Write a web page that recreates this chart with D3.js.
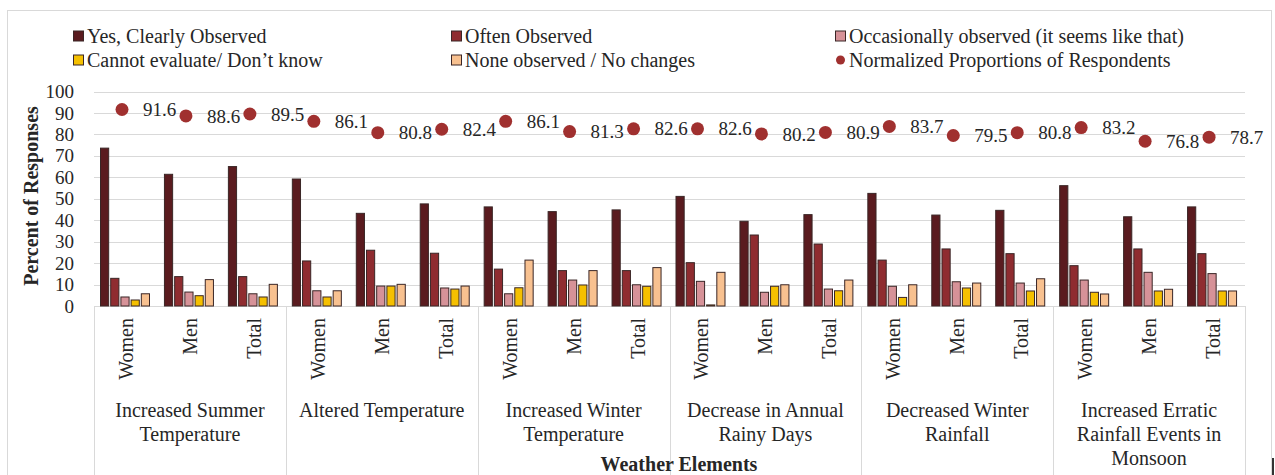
<!DOCTYPE html>
<html><head><meta charset="utf-8">
<script src="https://cdn.jsdelivr.net/npm/d3@7"></script>
<style>
body{margin:0;background:#fff}
svg{display:block}
text{font-family:"Liberation Serif","Times New Roman",serif;fill:#262626}
</style>
</head><body>
<svg id="chart" width="1275" height="475"></svg>
<script>
// ---------- data ----------
const groups = ["Increased Summer Temperature","Altered Temperature","Increased Winter Temperature","Decrease in Annual Rainy Days","Decreased Winter Rainfall","Increased Erratic Rainfall Events in Monsoon"];
const groupLines = [["Increased Summer","Temperature"],["Altered Temperature"],["Increased Winter","Temperature"],["Decrease in Annual","Rainy Days"],["Decreased Winter","Rainfall"],["Increased Erratic","Rainfall Events in","Monsoon"]];
const subgroups = ["Women","Men","Total"];
const seriesNames = ["Yes, Clearly Observed","Often Observed","Occasionally observed (it seems like that)","Cannot evaluate/ Don\u2019t know","None observed / No changes"];
const yesClearly   = [73.6,61.4,65.0, 59.2,43.2,47.6, 46.2,44.0,44.8, 51.1,39.5,42.6, 52.5,42.4,44.6, 56.1,41.6,46.2];
const often        = [12.9,13.7,13.7, 21.0,26.0,24.6, 17.2,16.5,16.5, 20.2,33.1,28.9, 21.4,26.6,24.4, 18.8,26.6,24.4];
const occasionally = [4.2,6.5,5.7,   7.1,9.3,8.4,    5.7,12.1,9.9,   11.5,6.4,7.9,   9.2,11.3,10.7,  12.1,15.7,15.1];
const cannotEval   = [2.8,4.8,4.2,   4.2,9.3,7.9,    8.5,9.8,9.2,    0.5,9.2,7.1,    4.0,8.4,7.0,    6.4,7.0,7.0];
const noneObserved = [5.7,12.3,10.1, 7.1,10.1,9.3,   21.4,16.5,17.9, 15.7,9.9,12.1,  9.9,10.7,12.7,  5.6,7.8,7.0];
const normalized   = [91.6,88.6,89.5, 86.1,80.8,82.4, 86.1,81.3,82.6, 82.6,80.2,80.9, 83.7,79.5,80.8, 83.2,76.8,78.7];
const dotLegend = "Normalized Proportions of Respondents";
const yTicks = [0,10,20,30,40,50,60,70,80,90,100];
const yTitle = "Percent of Responses";
const xTitle = "Weather Elements";

// ---------- styles ----------
const seriesColors = ["#5a1b1f","#8f2c30","#d69298","#f5c000","#f8c190"];
const dotColor = "#a0302f";
const gridColor = "#d9d9d9";

const allSeries = [yesClearly, often, occasionally, cannotEval, noneObserved];
const cats = [];
groups.forEach((g,gi)=>subgroups.forEach((s,si)=>cats.push({g,gi,s,key:g+"|"+s,idx:cats.length})));

const svg = d3.select("#chart");
svg.append("rect").attr("x",7.5).attr("y",10.5).attr("width",1264).attr("height",480)
  .attr("fill","#fff").attr("stroke","#d9d9d9");

const plotL=94, plotR=1245, plotT=91.5, plotB=306;
const y = d3.scaleLinear().domain([0,100]).range([plotB,plotT]);
const x = d3.scaleBand().domain(cats.map(c=>c.key)).range([plotL,plotR]).padding(0);
const xg = d3.scaleBand().domain(groups).range([plotL,plotR]).padding(0);
const xs = d3.scaleBand().domain(d3.range(5)).range([6,56]).paddingInner(0.1);

// gridlines
svg.append("g").selectAll("line").data(yTicks).join("line")
  .attr("x1",plotL).attr("x2",plotR).attr("y1",d=>Math.round(y(d))+0.5).attr("y2",d=>Math.round(y(d))+0.5)
  .attr("stroke",gridColor).attr("stroke-width",1);

// y axis labels
const yAxis = svg.append("g").attr("transform",`translate(${plotL},0)`)
  .call(d3.axisLeft(y).tickValues(yTicks).tickSize(0).tickPadding(20));
yAxis.select(".domain").remove();
yAxis.selectAll("text").attr("font-size",19).style("font-family",'"Liberation Serif",serif').attr("fill","#262626");

// group dividers
svg.append("g").selectAll("line").data(groups.concat(["end"])).join("line")
  .attr("x1",(d,i)=>Math.round(i<groups.length?xg(d):plotR)+0.5)
  .attr("x2",(d,i)=>Math.round(i<groups.length?xg(d):plotR)+0.5)
  .attr("y1",plotB).attr("y2",475).attr("stroke",gridColor);

// bars
const barG = svg.append("g");
allSeries.forEach((vals,si)=>{
  barG.append("g").selectAll("rect").data(cats).join("rect")
    .attr("x",c=>x(c.key)+xs(si)+0.5)
    .attr("width",xs.bandwidth()-1)
    .attr("y",c=>y(vals[c.idx]))
    .attr("height",c=>plotB-y(vals[c.idx]))
    .attr("fill",seriesColors[si])
    .attr("stroke","#3a2626").attr("stroke-width",1);
});

// dots and labels
const dotX = c=>x(c.key)+(xs.range()[0]+xs.range()[1])/2-3;
svg.append("g").selectAll("circle").data(cats).join("circle")
  .attr("cx",dotX).attr("cy",c=>y(normalized[c.idx])).attr("r",6.5).attr("fill",dotColor);
svg.append("g").selectAll("text").data(cats).join("text")
  .attr("x",c=>dotX(c)+21).attr("y",c=>y(normalized[c.idx])).attr("dy","0.35em")
  .attr("font-size",19).text(c=>normalized[c.idx].toFixed(1));

// sub-category labels
svg.append("g").selectAll("text").data(cats).join("text")
  .attr("transform",c=>`translate(${x(c.key)+x.bandwidth()/2},318) rotate(-90)`)
  .attr("text-anchor","end").attr("dy","0.35em").attr("font-size",20).text(c=>c.s);

// group labels
const gl = svg.append("g").selectAll("text").data(groups).join("text")
  .attr("text-anchor","middle").attr("font-size",20);
gl.each(function(g,i){
  d3.select(this).selectAll("tspan").data(groupLines[i]).join("tspan")
    .attr("x",xg(g)+xg.bandwidth()/2).attr("y",(d,j)=>417+j*24).text(d=>d);
});

// axis titles
svg.append("text").attr("transform","translate(31,196) rotate(-90)").attr("text-anchor","middle")
  .attr("dy","0.35em").attr("font-size",20).attr("font-weight","bold").attr("fill","#000").text(yTitle);
svg.append("text").attr("x",679).attr("y",471).attr("text-anchor","middle")
  .attr("font-size",20).attr("font-weight","bold").attr("fill","#000").text(xTitle);

// legend
const legCols=[73,451,835], legRows=[36,60];
const legItems = seriesNames.map((n,i)=>({n,i,type:"rect"})).concat([{n:dotLegend,i:5,type:"dot"}]);
const lg = svg.append("g").selectAll("g").data(legItems).join("g")
  .attr("transform",(d,k)=>`translate(${legCols[k%3]},${legRows[Math.floor(k/3)]})`);
lg.filter(d=>d.type==="rect").append("rect").attr("x",0.5).attr("y",-5).attr("width",10).attr("height",10)
  .attr("fill",d=>seriesColors[d.i]).attr("stroke","#3a2626");
lg.filter(d=>d.type==="dot").append("circle").attr("cx",5.5).attr("cy",0).attr("r",4.5).attr("fill",dotColor);
lg.append("text").attr("x",14).attr("dy","0.35em").attr("font-size",20).text(d=>d.n);

// small edge mark
svg.append("line").attr("x1",1273).attr("x2",1273).attr("y1",458).attr("y2",475).attr("stroke","#333").attr("stroke-width",2);
</script>
</body></html>
